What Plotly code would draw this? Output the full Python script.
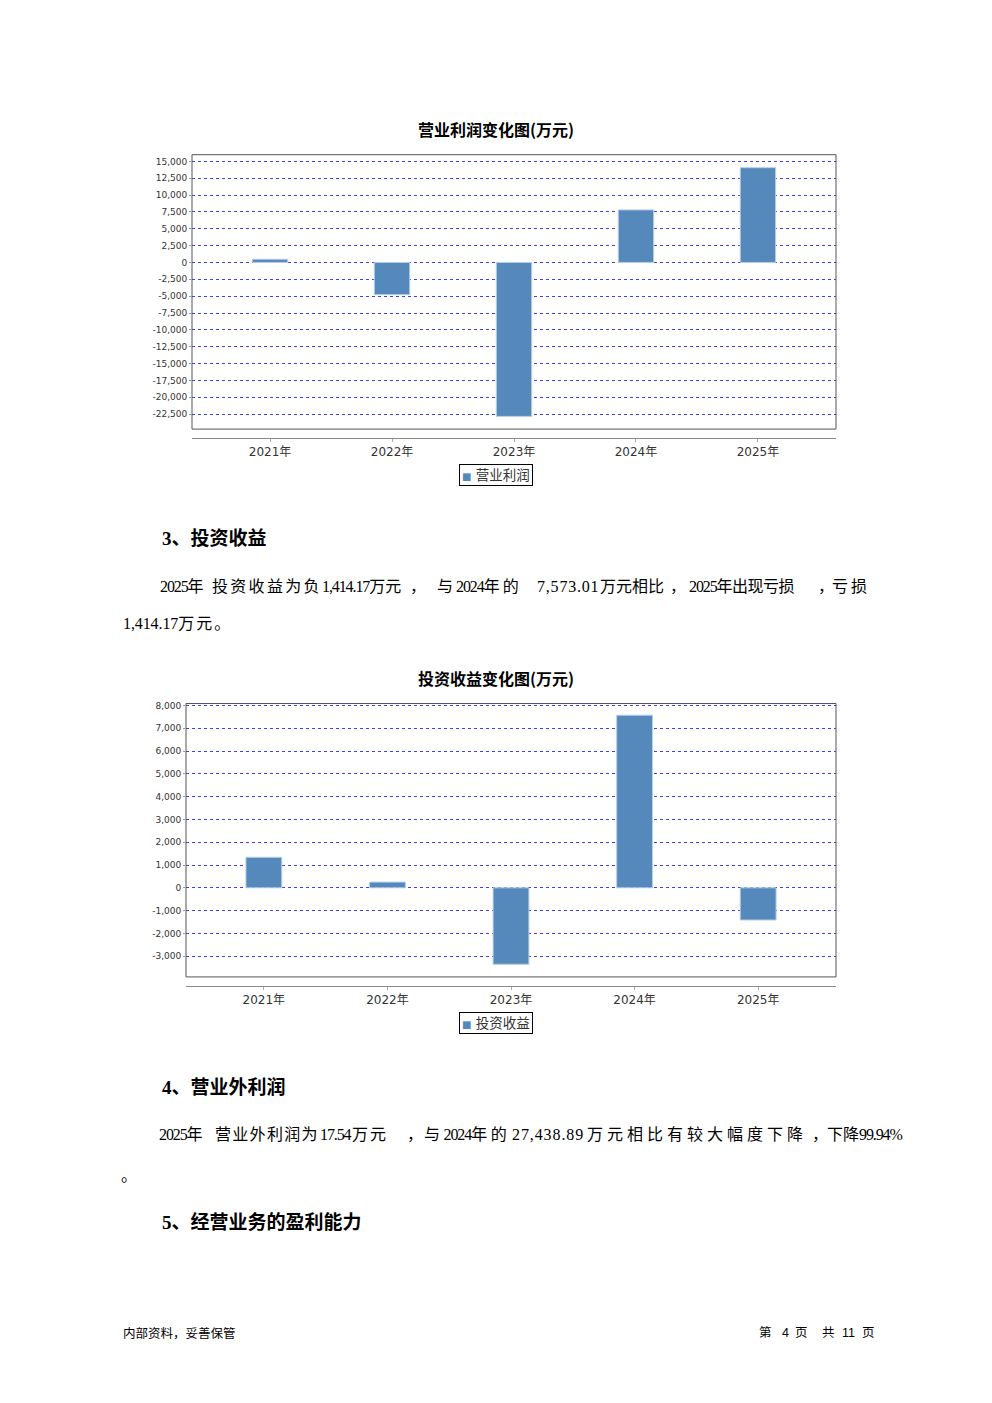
import re
import plotly.graph_objects as go

W0, H0 = 992, 1403          # browser window
M = 8                       # default body margin of the html page
W, H = W0 - 2 * M, H0 - 2 * M

# ---------------- data ----------------
years = ["2021年", "2022年", "2023年", "2024年", "2025年"]
op_profit = [480, -4780, -22840, 7800, 14065]          # 营业利润 (万元)
inv_income = [1340, 250, -3356, 7573.01, -1414.17]      # 投资收益 (万元)
y1_ticks = [15000, 12500, 10000, 7500, 5000, 2500, 0, -2500, -5000, -7500,
            -10000, -12500, -15000, -17500, -20000, -22500]
y2_ticks = [8000, 7000, 6000, 5000, 4000, 3000, 2000, 1000, 0, -1000, -2000, -3000]
chart1_title = "营业利润变化图(万元)"
chart2_title = "投资收益变化图(万元)"
series1_name = "营业利润"
series2_name = "投资收益"


def fmt(v):
    return f"{v:,}"


def px(x):
    return (x - M) / W


def py(y):
    return 1 - (y - M) / H


BAR = "#5589BB"
GRID = "#3c3cff"
CJK = "Noto Sans CJK SC"
BODY = "Liberation Serif, Noto Sans CJK SC"
TICKF = dict(family="DejaVu Sans, Noto Sans CJK SC", size=9, color="#333333")
XTICKF = dict(family="DejaVu Sans, Noto Sans CJK SC", size=12, color="#333333")

fig = go.Figure()
fig.add_bar(x=years, y=op_profit, xaxis="x", yaxis="y", width=0.29,
            marker=dict(color=BAR, line=dict(color="#b9cfe6", width=1)),
            showlegend=False, name=series1_name)
fig.add_bar(x=years, y=inv_income, xaxis="x2", yaxis="y2", width=0.29,
            marker=dict(color=BAR, line=dict(color="#b9cfe6", width=1)),
            showlegend=False, name=series2_name)

common_x = dict(type="category", showline=True, linecolor="#8a8a8a", linewidth=1,
                ticks="outside", ticklen=3, tickcolor="#aaaaaa", tickfont=XTICKF,
                showgrid=False, zeroline=False, fixedrange=True)
common_y = dict(showgrid=True, gridcolor=GRID, griddash="dot", gridwidth=1,
                zeroline=False, showline=False, ticks="outside", ticklen=2,
                tickcolor="#999999", tickfont=TICKF, fixedrange=True)

fig.update_layout(
    width=W, height=H,
    margin=dict(l=0, r=0, t=0, b=0),
    paper_bgcolor="white", plot_bgcolor="white",
    showlegend=False,
    xaxis=dict(domain=[px(192), px(836)], anchor="free", position=py(436),
               range=[-0.64, 4.64], **common_x),
    yaxis=dict(domain=[py(427), py(152)], anchor="x", range=[-24720, 15990],
               tickvals=y1_ticks, ticktext=[fmt(v) for v in y1_ticks], **common_y),
    xaxis2=dict(domain=[px(186), px(836)], anchor="free", position=py(985),
                range=[-0.63, 4.63], **common_x),
    yaxis2=dict(domain=[py(976), py(702)], anchor="x2", range=[-3910, 8087],
                tickvals=y2_ticks, ticktext=[fmt(v) for v in y2_ticks], **common_y),
    shapes=[
        dict(type="rect", xref="x domain", yref="y domain", x0=0, x1=1, y0=0, y1=1,
             line=dict(color="#555555", width=1), layer="above"),
        dict(type="rect", xref="x2 domain", yref="y2 domain", x0=0, x1=1, y0=0, y1=1,
             line=dict(color="#555555", width=1), layer="above"),
    ],
)

ann = []


def text(x, y, s, size=16, family=BODY, anchor="left", color="black", **kw):
    ann.append(dict(x=px(x), y=py(y), xref="paper", yref="paper", text=s,
                    showarrow=False, xanchor=anchor, yanchor="middle",
                    font=dict(family=family, size=size, color=color), **kw))


def seg(s, ls=0.0, dls=-1.1, dsize=16):
    """Body text: Latin digits slightly condensed, optional letter spacing."""
    out = []
    for part in re.split(r"([0-9][0-9.,%]*)", s):
        if not part:
            continue
        if re.match(r"[0-9]", part):
            out.append(f"<span style='font-size:{dsize}px;letter-spacing:{dls}px'>{part}</span>")
        elif ls:
            out.append(f"<span style='letter-spacing:{ls}px'>{part}</span>")
        else:
            out.append(part)
    return "".join(out)


# chart titles
text(496, 126, f"<b>{chart1_title}</b>", size=16, family=CJK, anchor="center")
text(496, 676, f"<b>{chart2_title}</b>", size=16, family=CJK, anchor="center")

# legends (boxed)
for yy, name in [(473.5, series1_name), (1022.5, series2_name)]:
    text(496, yy, f"<span style='color:{BAR};font-size:10px'>■</span> {name}",
         size=13.5, family="DejaVu Sans, " + CJK, anchor="center", color="#333333",
         bordercolor="black", borderwidth=1, borderpad=2, bgcolor="white")

# section 3
text(160, 537, "<b>3、投资收益</b>", size=19)
line1 = [(158, "2025年", 0, -1.1), (210, "投资收益为负", 2.3, -1.1),
         (320, "1,414.17万元", 0, -1.1), (408, "，", 0, -1.1),
         (435, "与2024年的", 3, -1.1), (535, "7,573.01", 0, 0.8),
         (598, "万元相比", 0, -1.1), (668, "，", 0, -1.1),
         (687, "2025年出现亏损", -0.5, -1.1), (816, "，", 0, -1.1),
         (830, "亏损", 3, -1.1)]
for x, s, ls, dls in line1:
    text(x, 585, seg(s, ls, dls))
text(121, 622, seg("1,414.17万元。", 2, -0.1))

# section 4
text(160, 1086, "<b>4、营业外利润</b>", size=19)
line2 = [(157, "2025年", 0, -1.1), (213, "营业外利润为", 1.3, -1.1),
         (318, "17.54", 0, -1.1), (350, "万元", 2, -1.1), (405, "，", 0, -1.1),
         (422, "与2024年的", 3.5, -1.1), (510, "27,438.89", 0, 0.9),
         (585, "万元相比有较大幅度下降", 4, -1.1), (810, "，", 0, -1.1),
         (825, "下降99.94%", 0, -1.1)]
for x, s, ls, dls in line2:
    text(x, 1134, seg(s, ls, dls))
text(119, 1175, "。")

# section 5
text(160, 1222, "<b>5、经营业务的盈利能力</b>", size=19)

# footer
FOOT = "Liberation Sans, " + CJK
text(121, 1333, "内部资料，妥善保管", size=12.5, family=FOOT)
for x, s in [(757, "第"), (780, "4"), (793, "页"), (820, "共"), (840, "11"), (860, "页")]:
    text(x, 1333, s, size=12.5, family=FOOT)

fig.update_layout(annotations=ann)
fig.write_html("out.html")
